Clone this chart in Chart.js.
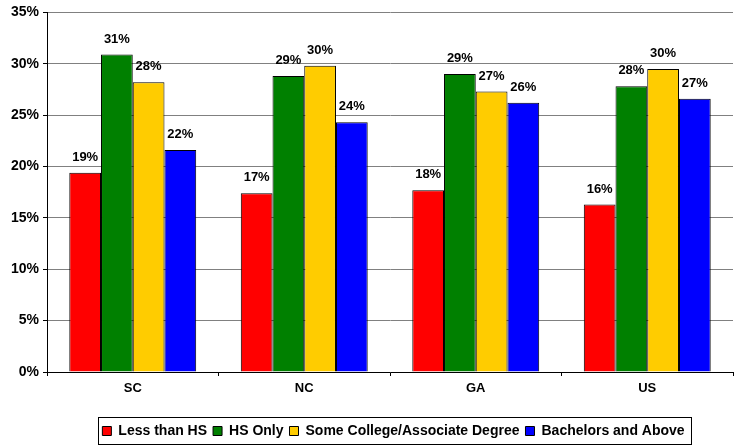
<!DOCTYPE html>
<html>
<head>
<meta charset="utf-8">
<script src="https://cdn.jsdelivr.net/npm/chart.js@4/dist/chart.umd.min.js"></script>
<style>
  html, body { margin: 0; padding: 0; background: #fff; }
  #wrap { width: 736px; height: 445px; }
</style>
</head>
<body>
<div id="wrap"><canvas id="grafica"></canvas></div>
<script>
const regiones = ["SC", "NC", "GA", "US"];
const menosHS = [19.4, 17.4, 17.7, 16.3];
const soloHS = [30.9, 28.8, 29.0, 27.8];
const algoCollege = [28.2, 29.8, 27.3, 29.5];
const bachelors = [21.6, 24.3, 26.2, 26.6];
const ticksY = [0, 5, 10, 15, 20, 25, 30, 35];

const FUENTE = "'Liberation Sans', Arial, sans-serif";

// etiquetas de valor encima de cada barra
const etiquetas = {
  id: "etiquetas",
  afterDatasetsDraw(chart) {
    const ctx = chart.ctx;
    ctx.save();
    ctx.font = "bold 13px " + FUENTE;
    ctx.fillStyle = "#000";
    ctx.textAlign = "center";
    ctx.textBaseline = "alphabetic";
    chart.data.datasets.forEach((ds, i) => {
      chart.getDatasetMeta(i).data.forEach((bar, j) => {
        ctx.fillText(Math.round(ds.data[j]) + "%", bar.x, bar.y - 12);
      });
    });
    ctx.restore();
  }
};

// la leyenda va un poco a la derecha, con marco
const marcoLeyenda = {
  id: "marcoLeyenda",
  afterLayout(chart) {
    const ley = chart.legend;
    ley.left += 27;
    ley.right += 27;
    (ley.legendHitBoxes || []).forEach(c => { c.left += 27; });
  },
  afterDraw(chart) {
    const cajas = chart.legend.legendHitBoxes;
    if (!cajas || !cajas.length) return;
    let izq = Infinity, der = -Infinity, arr = Infinity, abj = -Infinity;
    cajas.forEach(c => {
      izq = Math.min(izq, c.left); der = Math.max(der, c.left + c.width);
      arr = Math.min(arr, c.top); abj = Math.max(abj, c.top + c.height);
    });
    const ctx = chart.ctx;
    ctx.save();
    ctx.strokeStyle = "#000";
    ctx.lineWidth = 1;
    ctx.strokeRect(Math.round(izq - 4) + 0.5, Math.round(arr - 7) + 0.5,
                   Math.round(der - izq + 11), Math.round(abj - arr + 13));
    ctx.restore();
  }
};

new Chart("grafica", {
  type: "bar",
  data: {
    labels: regiones,
    datasets: [
      { label: "Less than HS", data: menosHS, backgroundColor: "#FF0000" },
      { label: "HS Only", data: soloHS, backgroundColor: "#008000" },
      { label: "Some College/Associate Degree", data: algoCollege, backgroundColor: "#FFCC00" },
      { label: "Bachelors and Above", data: bachelors, backgroundColor: "#0000FF" }
    ].map(d => Object.assign(d, {
      borderColor: "#000",
      borderWidth: 1,
      categoryPercentage: 0.74,
      barPercentage: 1
    }))
  },
  options: {
    responsive: true,
    maintainAspectRatio: false,
    animation: false,
    layout: { padding: { top: 3, right: 3, left: 0, bottom: -3 } },
    plugins: {
      tooltip: { enabled: false },
      legend: {
        position: "bottom",
        labels: {
          color: "#000",
          font: { family: FUENTE, size: 14, weight: "bold" },
          boxWidth: 9,
          boxHeight: 9,
          padding: 6
        }
      }
    },
    scales: {
      y: {
        min: 0,
        max: 35,
        afterBuildTicks(eje) { eje.ticks = ticksY.map(v => ({ value: v })); },
        afterFit(eje) { eje.width = 47; },
        ticks: {
          color: "#000",
          font: { family: FUENTE, size: 14, weight: "bold" },
          padding: 4,
          callback: v => v + "%"
        },
        grid: { color: "#808080", tickColor: "#000", tickLength: 4 },
        border: { color: "#000", width: 1 }
      },
      x: {
        afterFit(eje) { eje.height = 46; },
        ticks: {
          color: "#000",
          font: { family: FUENTE, size: 13, weight: "bold" },
          padding: 5
        },
        grid: { offset: true, drawOnChartArea: false, tickColor: "#000", tickLength: 4 },
        border: { color: "#000", width: 1 }
      }
    }
  },
  plugins: [etiquetas, marcoLeyenda]
});
</script>
</body>
</html>
